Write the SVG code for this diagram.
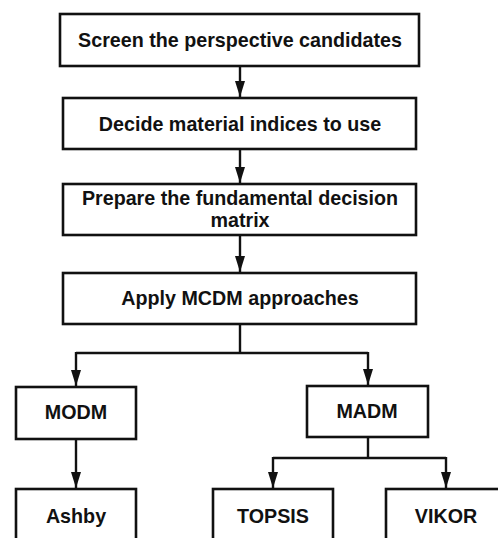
<svg xmlns="http://www.w3.org/2000/svg" width="498" height="538" viewBox="0 0 498 538">
<defs>
<style>
.box{fill:#fff;stroke:#111;stroke-width:2.6}
.t{font-family:"Liberation Sans",Arial,sans-serif;font-weight:bold;font-size:19.7px;fill:#111;text-anchor:middle}
.c{fill:none;stroke:#111;stroke-width:2.4}
</style>
<marker id="a" viewBox="0 0 16 11" refX="16" refY="5.5" markerWidth="16" markerHeight="11" markerUnits="userSpaceOnUse" orient="auto">
<path d="M0,0.5 L16,5.5 L0,10.5 Z" fill="#111"/>
</marker>
</defs>
<rect width="498" height="538" fill="#fff"/>
<g id="connectors">
<path class="c" d="M240,66 V97" marker-end="url(#a)"/>
<path class="c" d="M240,149 V183" marker-end="url(#a)"/>
<path class="c" d="M240,235 V272" marker-end="url(#a)"/>
<path class="c" d="M240,324 V353 M76,353 H368"/>
<path class="c" d="M76,352 V386" marker-end="url(#a)"/>
<path class="c" d="M368,352 V385" marker-end="url(#a)"/>
<path class="c" d="M76,439 V488" marker-end="url(#a)"/>
<path class="c" d="M368,437 V458 M273,458 H446"/>
<path class="c" d="M273,457 V488" marker-end="url(#a)"/>
<path class="c" d="M446,457 V488" marker-end="url(#a)"/>
</g>
<g id="n1"><rect class="box" x="60" y="14" width="359" height="52"/><text class="t" x="240" y="46.7">Screen the perspective candidates</text></g>
<g id="n2"><rect class="box" x="63" y="98" width="353" height="51"/><text class="t" x="240" y="130.7">Decide material indices to use</text></g>
<g id="n3"><rect class="box" x="63" y="184" width="353" height="51"/><text class="t" x="240" y="204.5">Prepare the fundamental decision</text><text class="t" x="240" y="226.7">matrix</text></g>
<g id="n4"><rect class="box" x="63" y="273" width="353" height="51"/><text class="t" x="240" y="305.3">Apply MCDM approaches</text></g>
<g id="modm"><rect class="box" x="16" y="387" width="120" height="52"/><text class="t" x="76" y="419.3">MODM</text></g>
<g id="madm"><rect class="box" x="307" y="386" width="121" height="51"/><text class="t" x="367" y="417.5">MADM</text></g>
<g id="ashby"><rect class="box" x="16" y="489" width="120" height="60"/><text class="t" x="76" y="522.5">Ashby</text></g>
<g id="topsis"><rect class="box" x="213" y="489" width="120" height="60"/><text class="t" x="273" y="522.5">TOPSIS</text></g>
<g id="vikor"><rect class="box" x="386" y="489" width="130" height="60"/><text class="t" x="446" y="522.5">VIKOR</text></g>
</svg>
